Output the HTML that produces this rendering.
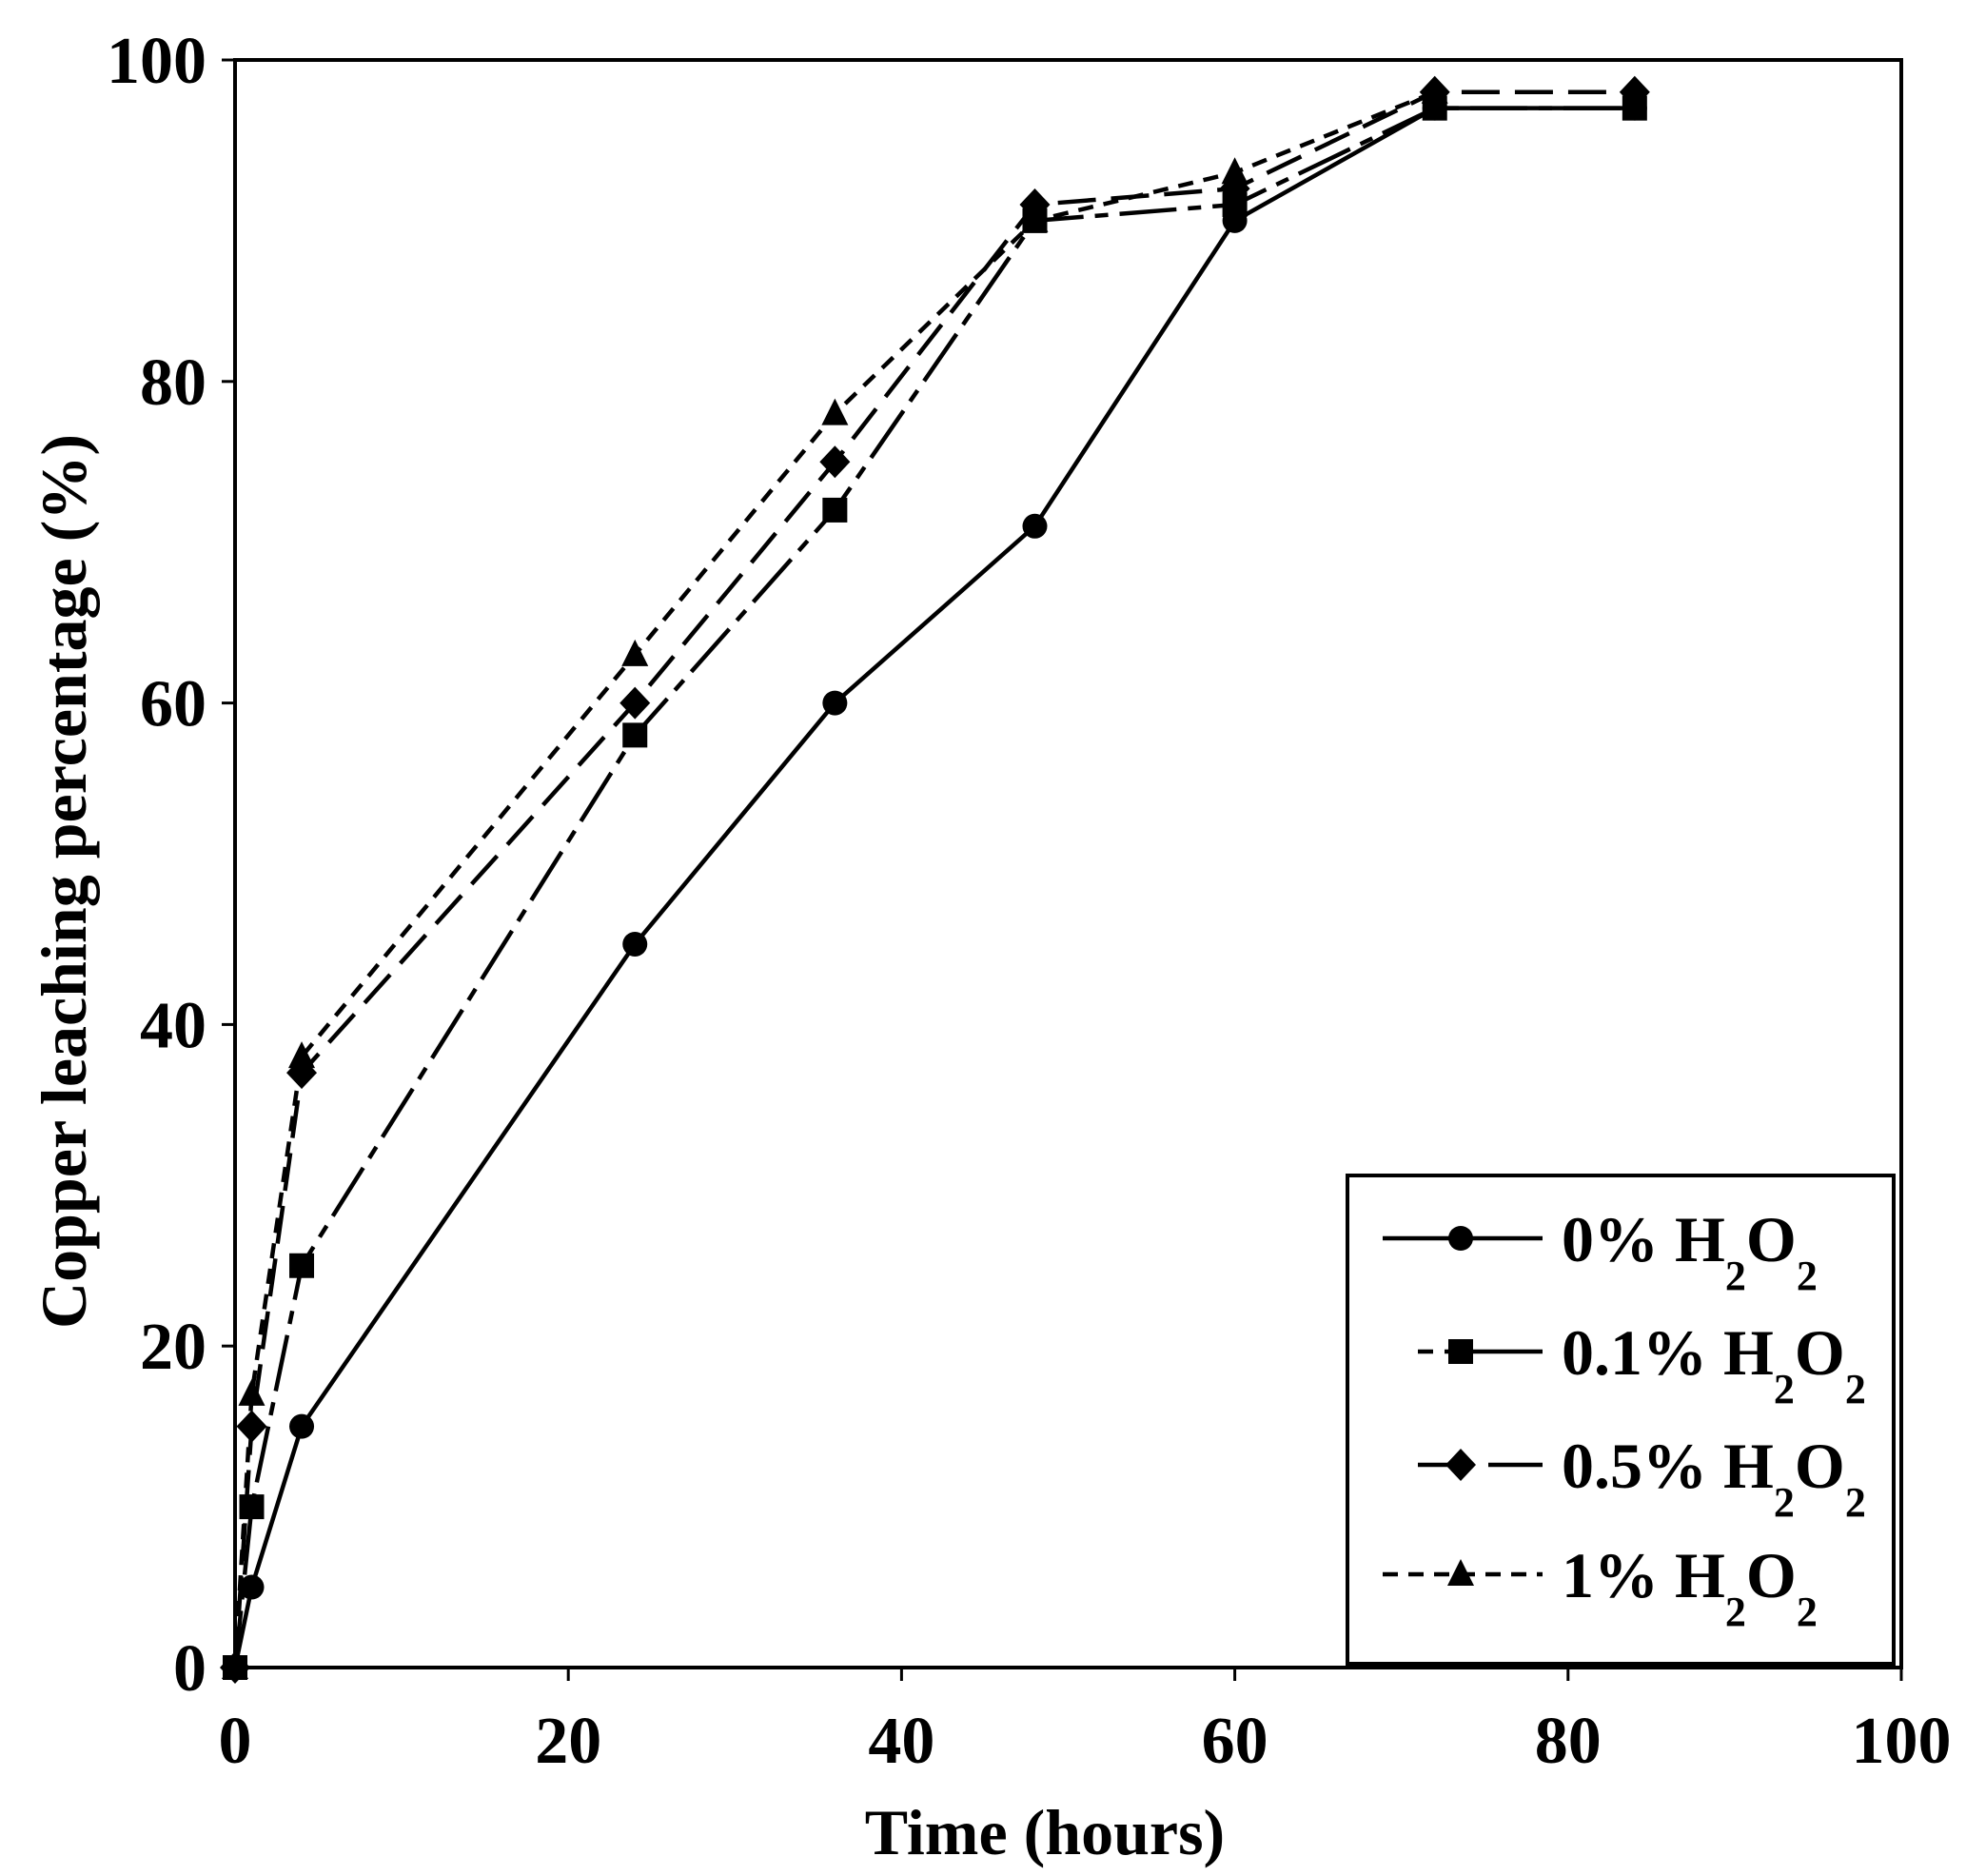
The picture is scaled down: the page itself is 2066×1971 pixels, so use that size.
<!DOCTYPE html>
<html><head><meta charset="utf-8"><style>
html,body{margin:0;padding:0;background:#fff;}
svg{display:block;}
text{font-family:"Liberation Serif",serif;font-weight:bold;fill:#000;}
</style></head><body>
<svg id="chart" width="2066" height="1971" viewBox="0 0 2066 1971" xmlns="http://www.w3.org/2000/svg">
<g id="axes"></g><g id="series"></g><g id="legend"></g>
</svg>
<script>
const times0 = [0,1,4,24,36,48,60,72,84];
const cu0 = [0,5,15,45,60,71,90,97,97];
const times01 = [0,1,4,24,36,48,60,72,84];
const cu01 = [0,10,25,58,72,90,91,97,97];
const times05 = [0,1,4,24,36,48,60,72,84];
const cu05 = [0,15,37,60,75,91,92,98,98];
const times1 = [0,1,4,24,36,48,60,72];
const cu1 = [0,17,38,63,78,90,93,98];
const xTicks = [0,20,40,60,80,100];
const yTicks = [0,20,40,60,80,100];
const seriesLabels = ["0%","0.1%","0.5%","1%"];

const L=247,R=1998,T=63,B=1752;
const sx=v=>L+(v-0)/100*(R-L);
const sy=v=>B-(v-0)/100*(B-T);
const NS="http://www.w3.org/2000/svg";
function mk(tag,attrs,parent){const e=document.createElementNS(NS,tag);for(const k in attrs)e.setAttribute(k,attrs[k]);parent.appendChild(e);return e;}
const axes=document.getElementById('axes'),ser=document.getElementById('series'),leg=document.getElementById('legend');

let fr=mk('rect',{x:L,y:T,width:R-L,height:B-T,fill:'none',stroke:'#000','stroke-width':4},axes);


xTicks.forEach(v=>{
  let t=mk('line',{x1:sx(v),x2:sx(v),y1:B,y2:B+14,stroke:'#000','stroke-width':3},axes);
  
  
  let tx=mk('text',{x:sx(v),y:B+100,'font-size':70,'text-anchor':'middle'},axes);tx.textContent=v;
  
  
});
yTicks.forEach(v=>{
  let t=mk('line',{x1:L-14,x2:L,y1:sy(v),y2:sy(v),stroke:'#000','stroke-width':3},axes);
  
  
  let tx=mk('text',{x:L-30,y:sy(v)+24,'font-size':70,'text-anchor':'end'},axes);tx.textContent=v;
  
  
});
let xt=mk('text',{x:1098,y:1948,'font-size':68,'text-anchor':'middle'},axes);xt.textContent='Time (hours)';


let yt=mk('text',{x:0,y:0,'font-size':68,'text-anchor':'middle',transform:'translate(90,926) rotate(-90)'},axes);yt.textContent='Copper leaching percentage (%)';



function marker(type,x,y,p){
  let e;
  if(type==='circle')e=mk('circle',{cx:x,cy:y,r:13,fill:'#000'},p);
  else if(type==='square')e=mk('rect',{x:x-13,y:y-13,width:26,height:26,fill:'#000'},p);
  else if(type==='diamond')e=mk('polygon',{points:`${x},${y-17} ${x+16},${y} ${x},${y+17} ${x-16},${y}`,fill:'#000'},p);
  else e=mk('polygon',{points:`${x},${y-16} ${x+14},${y+12} ${x-14},${y+12}`,fill:'#000'},p);
  return e;
}
const defs=[
  {xs:times0,ys:cu0,m:'circle',dash:'none',name:'series-0pct'},
  {xs:times01,ys:cu01,m:'square',dash:'60 12 14 12',name:'series-0-1pct'},
  {xs:times05,ys:cu05,m:'diamond',dash:'40 16',name:'series-0-5pct'},
  {xs:times1,ys:cu1,m:'triangle',dash:'16 11',name:'series-1pct'}
];
defs.forEach((d,i)=>{
  const g=mk('g',{},ser);
  
  
  const pts=d.xs.map((x,j)=>sx(x)+','+sy(d.ys[j])).join(' ');
  let pl=mk('polyline',{points:pts,fill:'none',stroke:'#000','stroke-width':4.5,'stroke-dasharray':d.dash},g);
  
  
  d.xs.forEach((x,j)=>{
    let m=marker(d.m,sx(x),sy(d.ys[j]),g);
    
    
  });
});

let lb=mk('rect',{x:1416,y:1235,width:574,height:513,fill:'#fff',stroke:'#000','stroke-width':4},leg);


const ly=[1301,1420,1539,1654];
defs.forEach((d,i)=>{
  const g=mk('g',{},leg);
  
  
  const x1=(i===1||i===2)?1490:1453;
  let ln=mk('line',{x1:x1,x2:1621,y1:ly[i],y2:ly[i],stroke:'#000','stroke-width':4.5,'stroke-dasharray':d.dash==='none'?'none':(i===1?'16 12 200':(i===2?'58 16':'16 11'))},g);
  
  
  let m=marker(d.m,1535,ly[i],g);
  
  
  let t=mk('text',{x:1641,y:ly[i]+24,'font-size':68},g);
  t.innerHTML=seriesLabels[i]+' H<tspan dy="30" font-size="44">2</tspan><tspan dy="-30">O</tspan><tspan dy="30" font-size="44">2</tspan>';
  
  
});
</script>
</body></html>
